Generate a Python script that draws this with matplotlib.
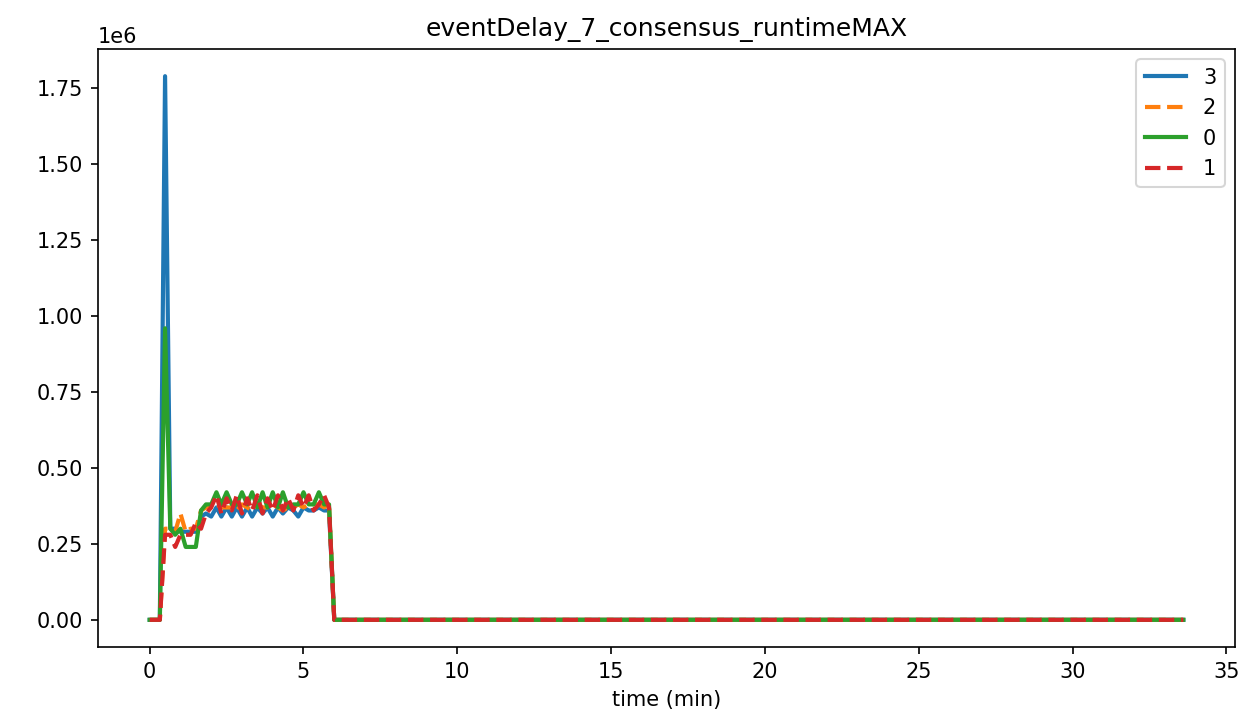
import numpy as np
import matplotlib
matplotlib.use("Agg")
import matplotlib.pyplot as plt

# time axis (min); the zero tail after 6 min is one straight segment
time_min = [0, 0.17, 0.33, 0.5, 0.67, 0.83, 1.0, 1.17, 1.33, 1.5, 1.67, 1.83,
            2.0, 2.17, 2.33, 2.5, 2.67, 2.83, 3.0, 3.17, 3.33, 3.5, 3.67, 3.83,
            4.0, 4.17, 4.33, 4.5, 4.67, 4.83, 5.0, 5.17, 5.33, 5.5, 5.67, 5.83,
            6.0, 6.17, 33.6]

# runtimeMAX per node, in units of 1e6
node3 = [0, 0, 0, 1.79, 0.30, 0.30, 0.29, 0.29, 0.29, 0.29, 0.34, 0.35,
         0.34, 0.37, 0.34, 0.37, 0.34, 0.37, 0.34, 0.37, 0.34, 0.37, 0.35, 0.37,
         0.34, 0.37, 0.35, 0.37, 0.36, 0.34, 0.37, 0.36, 0.36, 0.37, 0.36, 0.36,
         0, 0, 0]
node2 = [0, 0, 0, 0.30, 0.30, 0.29, 0.35, 0.29, 0.30, 0.30, 0.36, 0.37,
         0.37, 0.38, 0.37, 0.37, 0.37, 0.36, 0.38, 0.37, 0.36, 0.38, 0.37, 0.37,
         0.38, 0.37, 0.36, 0.37, 0.37, 0.38, 0.37, 0.38, 0.38, 0.38, 0.37, 0.38,
         0, 0, 0]
node0 = [0, 0, 0, 0.96, 0.30, 0.28, 0.30, 0.24, 0.24, 0.24, 0.36, 0.38,
         0.38, 0.42, 0.38, 0.42, 0.38, 0.38, 0.42, 0.38, 0.42, 0.37, 0.42, 0.37,
         0.42, 0.37, 0.42, 0.37, 0.38, 0.38, 0.42, 0.38, 0.38, 0.42, 0.38, 0.38,
         0, 0, 0]
node1 = [0, 0, 0, 0.28, 0.28, 0.24, 0.28, 0.28, 0.28, 0.32, 0.30, 0.35,
         0.37, 0.41, 0.35, 0.40, 0.36, 0.41, 0.35, 0.40, 0.36, 0.41, 0.35, 0.40,
         0.36, 0.41, 0.36, 0.40, 0.36, 0.41, 0.37, 0.41, 0.36, 0.38, 0.41, 0.37,
         0, 0, 0]

series = [("3", node3, "#1f77b4", "-"),
          ("2", node2, "#ff7f0e", "--"),
          ("0", node0, "#2ca02c", "-"),
          ("1", node1, "#d62728", "--")]

fig = plt.figure(figsize=(12.43 / 1.5, 7.19 / 1.5), dpi=150)
ax = fig.add_axes([98 / 1243, (719 - 647) / 719,
                   (1235 - 98) / 1243, (647 - 49) / 719])

for name, vals, color, ls in series:
    ax.plot(time_min, np.array(vals) * 1e6, color=color, linestyle=ls,
            linewidth=2, label=name)

ax.set_xlabel("time (min)")
ax.set_title("eventDelay_7_consensus_runtimeMAX")
ax.legend(loc="upper right")

fig.savefig("out.png", dpi=150)
